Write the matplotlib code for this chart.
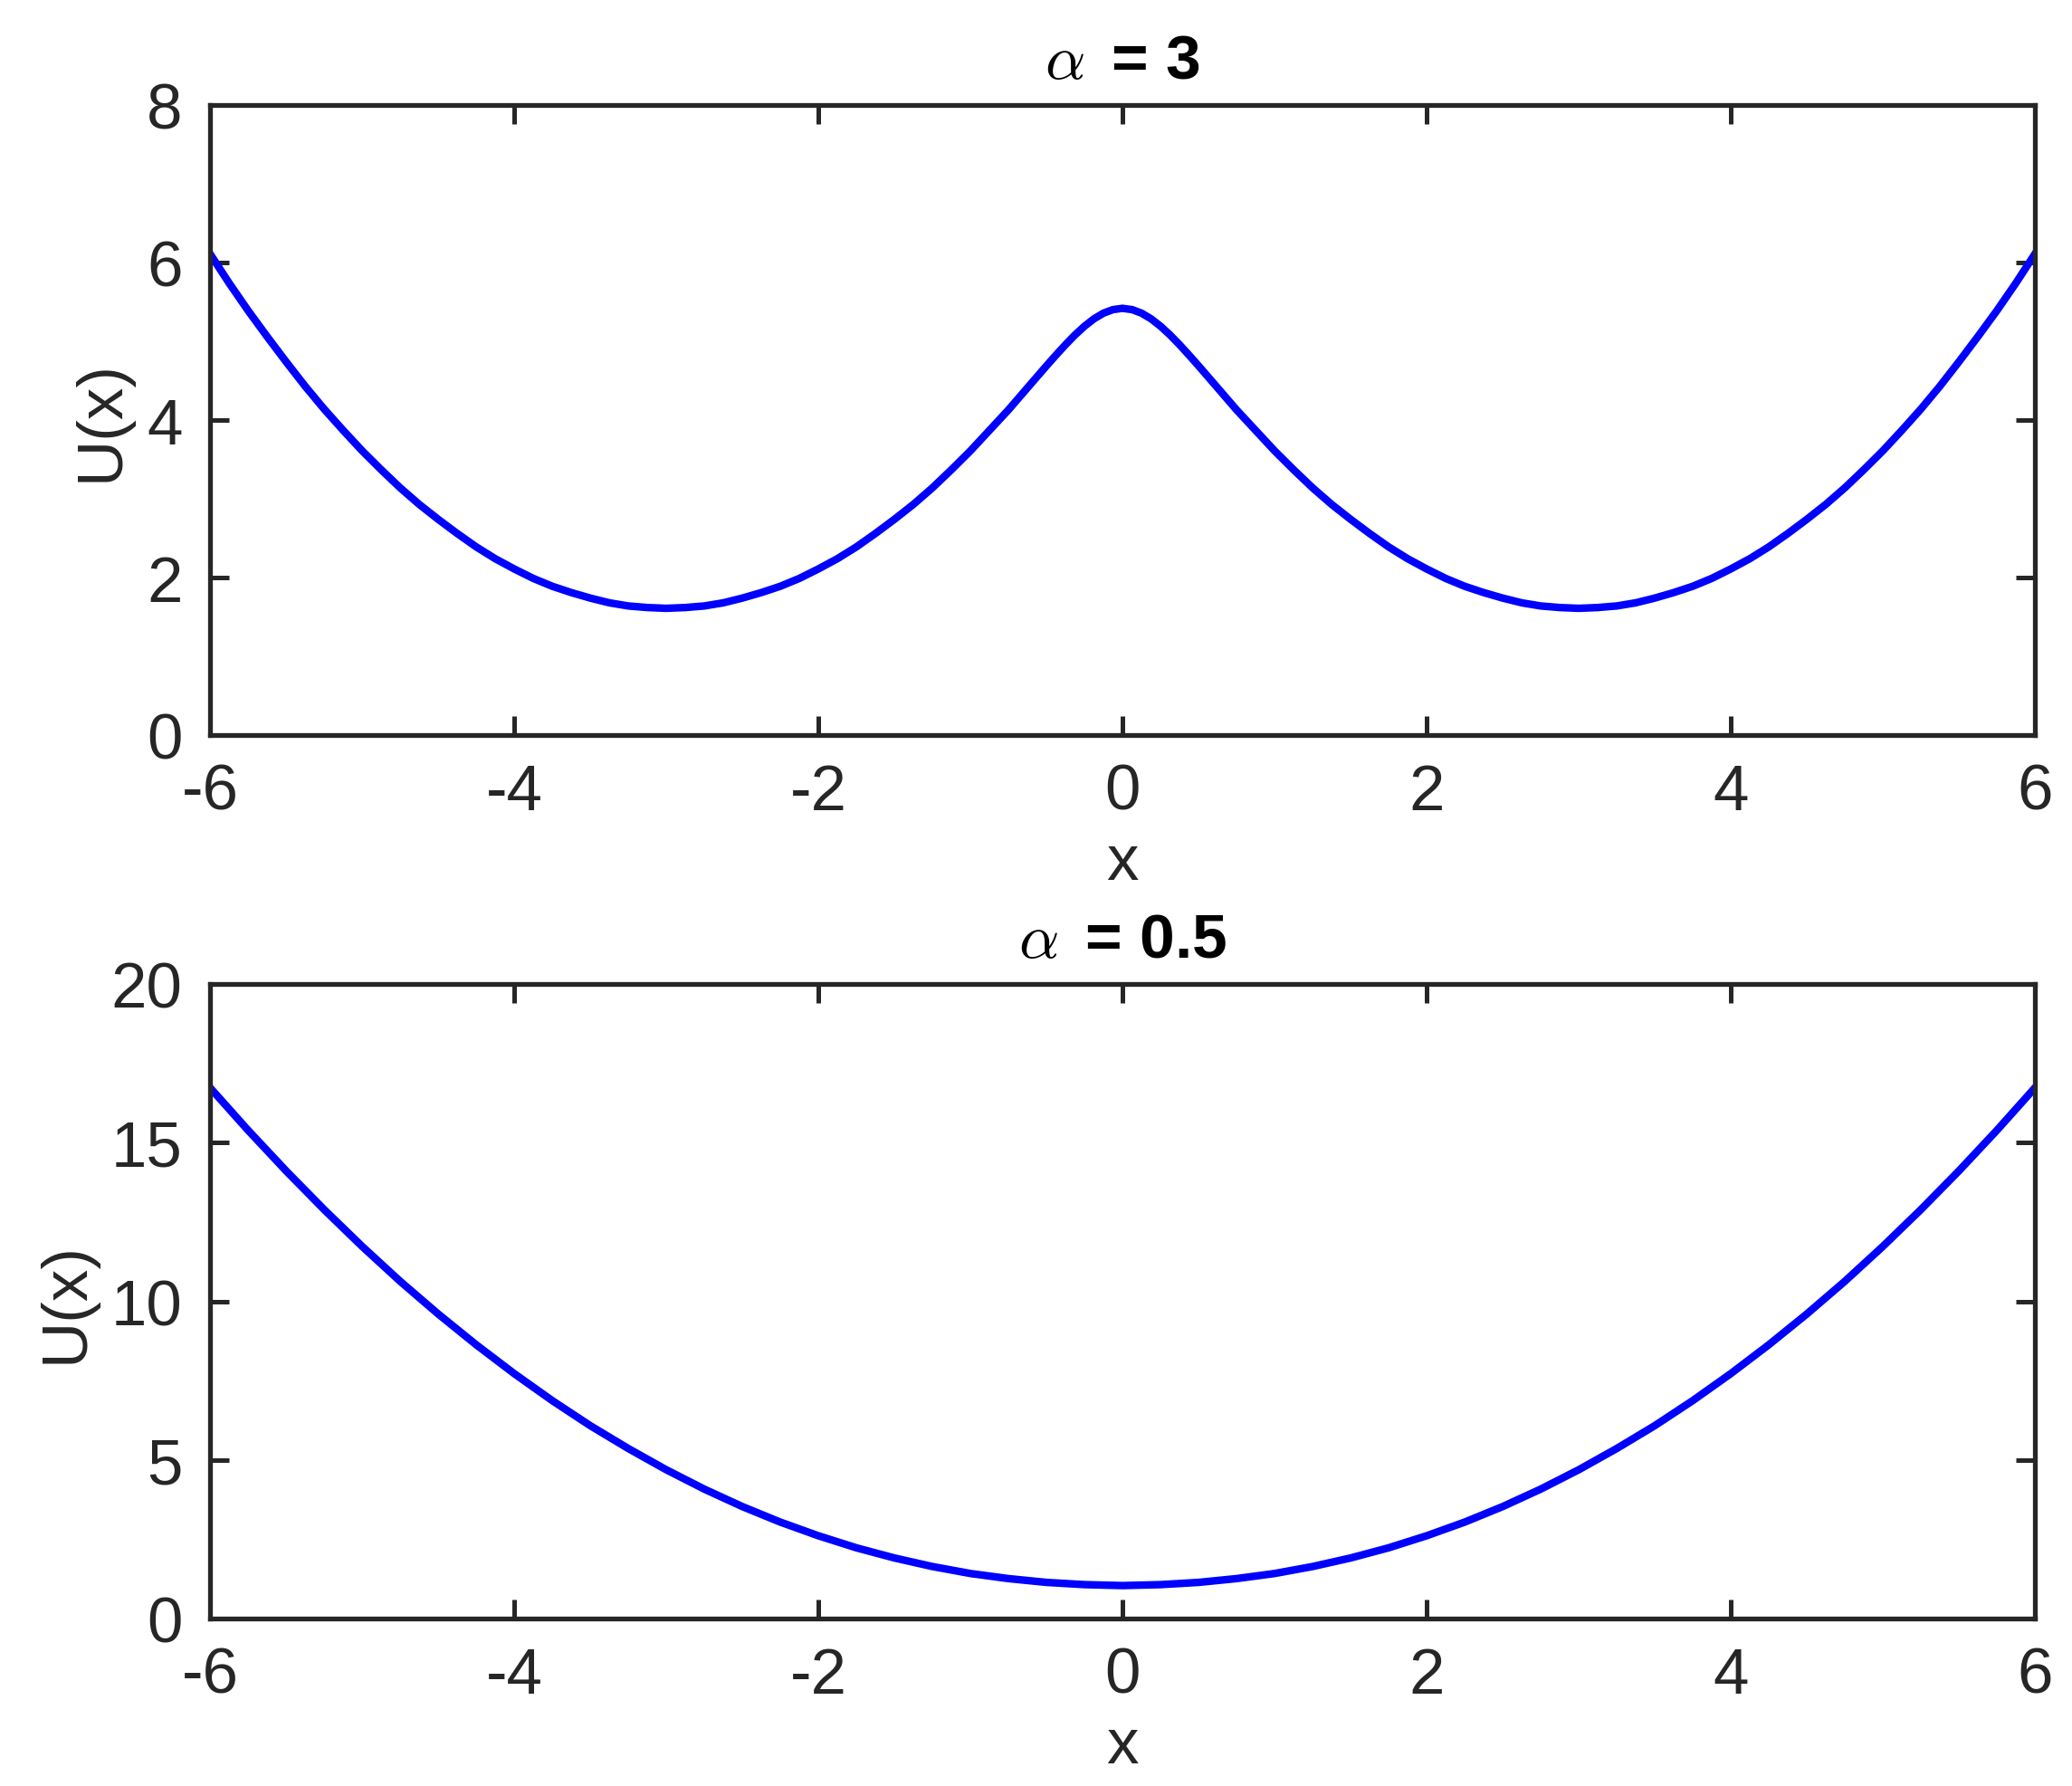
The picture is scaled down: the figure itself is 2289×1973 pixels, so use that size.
import matplotlib

matplotlib.use("Agg")
import matplotlib.pyplot as plt

# potential U(x) for alpha = 3
# (step 0.125, finer around the barrier at x = 0)
x_a3 = [-6.0, -5.875, -5.75, -5.625, -5.5, -5.375, -5.25, -5.125,
        -5.0, -4.875, -4.75, -4.625, -4.5, -4.375, -4.25, -4.125,
        -4.0, -3.875, -3.75, -3.625, -3.5, -3.375, -3.25, -3.125,
        -3.0, -2.875, -2.75, -2.625, -2.5, -2.375, -2.25, -2.125,
        -2.0, -1.875, -1.75, -1.625, -1.5, -1.375, -1.25, -1.125,
        -1.0, -0.875, -0.75, -0.625, -0.5, -0.4375, -0.375, -0.3125,
        -0.25, -0.1875, -0.125, -0.0625, 0.0,
        0.0625, 0.125, 0.1875, 0.25, 0.3125, 0.375, 0.4375, 0.5,
        0.625, 0.75, 0.875, 1.0,
        1.125, 1.25, 1.375, 1.5, 1.625, 1.75, 1.875, 2.0,
        2.125, 2.25, 2.375, 2.5, 2.625, 2.75, 2.875, 3.0,
        3.125, 3.25, 3.375, 3.5, 3.625, 3.75, 3.875, 4.0,
        4.125, 4.25, 4.375, 4.5, 4.625, 4.75, 4.875, 5.0,
        5.125, 5.25, 5.375, 5.5, 5.625, 5.75, 5.875, 6.0]
u_a3 = [6.11, 5.74, 5.39, 5.06, 4.74, 4.43, 4.14, 3.87,
        3.61, 3.37, 3.14, 2.93, 2.74, 2.56, 2.39, 2.24,
        2.11, 1.99, 1.89, 1.81, 1.74, 1.68, 1.64, 1.62,
        1.61, 1.62, 1.64, 1.68, 1.74, 1.81, 1.89, 1.99,
        2.11, 2.24, 2.39, 2.56, 2.74, 2.93, 3.14, 3.37,
        3.61, 3.87, 4.13, 4.41, 4.689, 4.825, 4.957, 5.081,
        5.192, 5.286, 5.358, 5.403, 5.419,
        5.403, 5.358, 5.286, 5.192, 5.081, 4.957, 4.825, 4.689,
        4.41, 4.13, 3.87, 3.61,
        3.37, 3.14, 2.93, 2.74, 2.56, 2.39, 2.24, 2.11,
        1.99, 1.89, 1.81, 1.74, 1.68, 1.64, 1.62, 1.61,
        1.62, 1.64, 1.68, 1.74, 1.81, 1.89, 1.99, 2.11,
        2.24, 2.39, 2.56, 2.74, 2.93, 3.14, 3.37, 3.61,
        3.87, 4.14, 4.43, 4.74, 5.06, 5.39, 5.74, 6.11]

# potential U(x) for alpha = 0.5 (step 0.25)
x_a05 = [-6.0, -5.75, -5.5, -5.25, -5.0, -4.75, -4.5, -4.25,
         -4.0, -3.75, -3.5, -3.25, -3.0, -2.75, -2.5, -2.25,
         -2.0, -1.75, -1.5, -1.25, -1.0, -0.75, -0.5, -0.25,
         0.0,
         0.25, 0.5, 0.75, 1.0, 1.25, 1.5, 1.75, 2.0,
         2.25, 2.5, 2.75, 3.0, 3.25, 3.5, 3.75, 4.0,
         4.25, 4.5, 4.75, 5.0, 5.25, 5.5, 5.75, 6.0]
u_a05 = [16.73, 15.39, 14.11, 12.89, 11.73, 10.63, 9.60, 8.63,
         7.72, 6.87, 6.08, 5.36, 4.69, 4.08, 3.53, 3.04,
         2.61, 2.23, 1.91, 1.64, 1.42, 1.26, 1.14, 1.07,
         1.04,
         1.07, 1.14, 1.26, 1.42, 1.64, 1.91, 2.23, 2.61,
         3.04, 3.53, 4.08, 4.69, 5.36, 6.08, 6.87, 7.72,
         8.63, 9.60, 10.63, 11.73, 12.89, 14.11, 15.39, 16.73]

x_ticks = [-6, -4, -2, 0, 2, 4, 6]
y_ticks_a3 = [0, 2, 4, 6, 8]
y_ticks_a05 = [0, 5, 10, 15, 20]

plt.rcParams["font.family"] = ["Liberation Sans", "DejaVu Sans"]
plt.rcParams["mathtext.fontset"] = "cm"
plt.rcParams["axes.unicode_minus"] = False

dark = "#262626"
fig = plt.figure(figsize=(11.445, 9.87), dpi=200)

panels = [
    ([0.1014, 0.5881, 0.8807, 0.3526], x_a3, u_a3, y_ticks_a3, r"$\alpha\,$ = 3"),
    ([0.1014, 0.0937, 0.8807, 0.3551], x_a05, u_a05, y_ticks_a05, r"$\alpha\,$ = 0.5"),
]

for rect, xs, us, yt, title in panels:
    ax = fig.add_axes(rect)
    ax.plot(xs, us, color="#0000ff", linewidth=3.0)
    ax.set_xlim(-6, 6)
    ax.set_ylim(yt[0], yt[-1])
    ax.set_xticks(x_ticks)
    ax.set_yticks(yt)
    ax.tick_params(direction="in", length=7.5, width=1.8, colors=dark,
                   labelsize=25.5, top=True, right=True, pad=11)
    for s in ax.spines.values():
        s.set_linewidth(1.9)
        s.set_color(dark)
    ax.set_xlabel("x", fontsize=25.5, color=dark, labelpad=4)
    ax.set_ylabel("U(x)", fontsize=25.5, color=dark, labelpad=6)
    ax.set_title(title, fontsize=25, fontweight="bold", color="black", pad=11)

fig.savefig("out.png", dpi=200)
plt.close(fig)
